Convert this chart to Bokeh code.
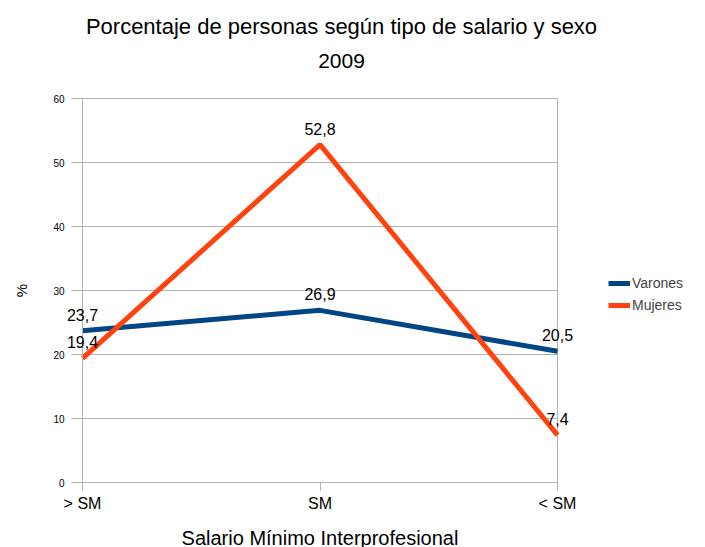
from bokeh.plotting import figure
from bokeh.models import (Range1d, FixedTicker, Legend, LegendItem, LabelSet, Label,
                          ColumnDataSource)
from bokeh.core.properties import value
from bokeh.embed import file_html
from bokeh.resources import INLINE

title_text = "Porcentaje de personas según tipo de salario y sexo"
subtitle_text = "2009"
categories = ["> SM", "SM", "< SM"]
series_names = ["Varones", "Mujeres"]
varones = [23.7, 26.9, 20.5]
mujeres = [19.4, 52.8, 7.4]
y_ticks = [0, 10, 20, 30, 40, 50, 60]
x_label = "Salario Mínimo Interprofesional"
y_label = "%"

FONT = "Liberation Sans"
GRID = "#b3b3b3"
colors = ["#004586", "#ff420e"]
xs = list(range(len(categories)))

# layout (pixels): the frame covers the whole canvas so that the end labels, the
# legend and the titles are not clipped; axes and grid are bounded to the data area
W, H = 705, 547
L = 10                                   # left border
AX_L, AX_R, AX_T, AX_B = 82, 557, 98, 482  # pixel box of the data area
ppx = (AX_R - AX_L) / (xs[-1] - xs[0])
ppy = (AX_B - AX_T) / (y_ticks[-1] - y_ticks[0])
x0 = xs[0] - (AX_L - L) / ppx
x1 = xs[-1] + (W - AX_R) / ppx
y0 = y_ticks[0] - (H - AX_B) / ppy
y1 = y_ticks[-1] + AX_T / ppy

p = figure(width=W, height=H, output_backend="svg", toolbar_location=None, title=None,
           x_range=Range1d(x0, x1), y_range=Range1d(y0, y1),
           min_border_left=L, min_border_right=0, min_border_top=0, min_border_bottom=0)
p.outline_line_color = None
p.background_fill_color = "white"
p.border_fill_color = "white"

renderers = []
for name, vals, col in zip(series_names, [varones, mujeres], colors):
    src = ColumnDataSource(dict(x=xs, y=vals,
                                t=[f"{v:.1f}".replace(".", ",") for v in vals]))
    r = p.line("x", "y", source=src, line_color=col, line_width=5)
    renderers.append(r)
    p.add_layout(LabelSet(x="x", y="y", text="t", source=src, y_offset=16,
                          text_align="center", text_baseline="middle",
                          text_font=value(FONT), text_font_size=value("16px"),
                          text_color="black"))

# titles
TCX = 341
p.add_layout(Label(x=TCX - L, y=H - 26, x_units="screen", y_units="screen",
                   text=title_text, text_align="center", text_baseline="middle",
                   text_font=FONT, text_font_size="22px", text_color="black"))
p.add_layout(Label(x=TCX - L, y=H - 60, x_units="screen", y_units="screen",
                   text=subtitle_text, text_align="center", text_baseline="middle",
                   text_font=FONT, text_font_size="21px", text_color="black"))

# axes
p.xaxis.ticker = FixedTicker(ticks=xs)
p.xaxis.major_label_overrides = {i: c for i, c in zip(xs, categories)}
p.xaxis.bounds = (xs[0], xs[-1])
p.xaxis.fixed_location = y_ticks[0]
p.yaxis.ticker = FixedTicker(ticks=y_ticks)
p.yaxis.bounds = (y_ticks[0], y_ticks[-1])
p.yaxis.fixed_location = xs[0]
for ax in (p.xaxis, p.yaxis):
    ax.axis_line_color = GRID
    ax.major_tick_line_color = GRID
    ax.minor_tick_line_color = None
    ax.major_tick_in = 0
    ax.major_label_text_font = FONT
    ax.major_label_text_color = "black"
    ax.axis_label_text_font = FONT
    ax.axis_label_text_font_style = "normal"
    ax.axis_label_text_color = "black"
p.xaxis.major_tick_out = 8
p.xaxis.major_label_standoff = 4
p.xaxis.major_label_text_font_size = "16px"
p.xaxis.axis_label = x_label
p.xaxis.axis_label_text_font_size = "20px"
p.xaxis.axis_label_standoff = 12
p.yaxis.major_tick_out = 11
p.yaxis.major_label_standoff = 7
p.yaxis.major_label_text_font_size = "10px"
p.yaxis.axis_label = y_label
p.yaxis.axis_label_text_font_size = "15px"
p.yaxis.axis_label_standoff = 20

p.ygrid.grid_line_color = GRID
p.ygrid.ticker = FixedTicker(ticks=y_ticks)
p.ygrid.cross_bounds = (xs[0], xs[-1])
p.xgrid.grid_line_color = GRID
p.xgrid.ticker = FixedTicker(ticks=[xs[0], xs[-1]])
p.xgrid.cross_bounds = (y_ticks[0], y_ticks[-1])

legend = Legend(items=[LegendItem(label=n, renderers=[r]) for n, r in zip(series_names, renderers)],
                location=(608 - L, H - 316), orientation="vertical", border_line_color=None,
                background_fill_alpha=0, label_text_font=FONT, label_text_font_size="14px",
                glyph_width=22, glyph_height=22, label_height=22, label_standoff=2,
                padding=0, margin=0, spacing=0)
p.add_layout(legend)

open("out.html", "w").write(file_html(p, INLINE))
